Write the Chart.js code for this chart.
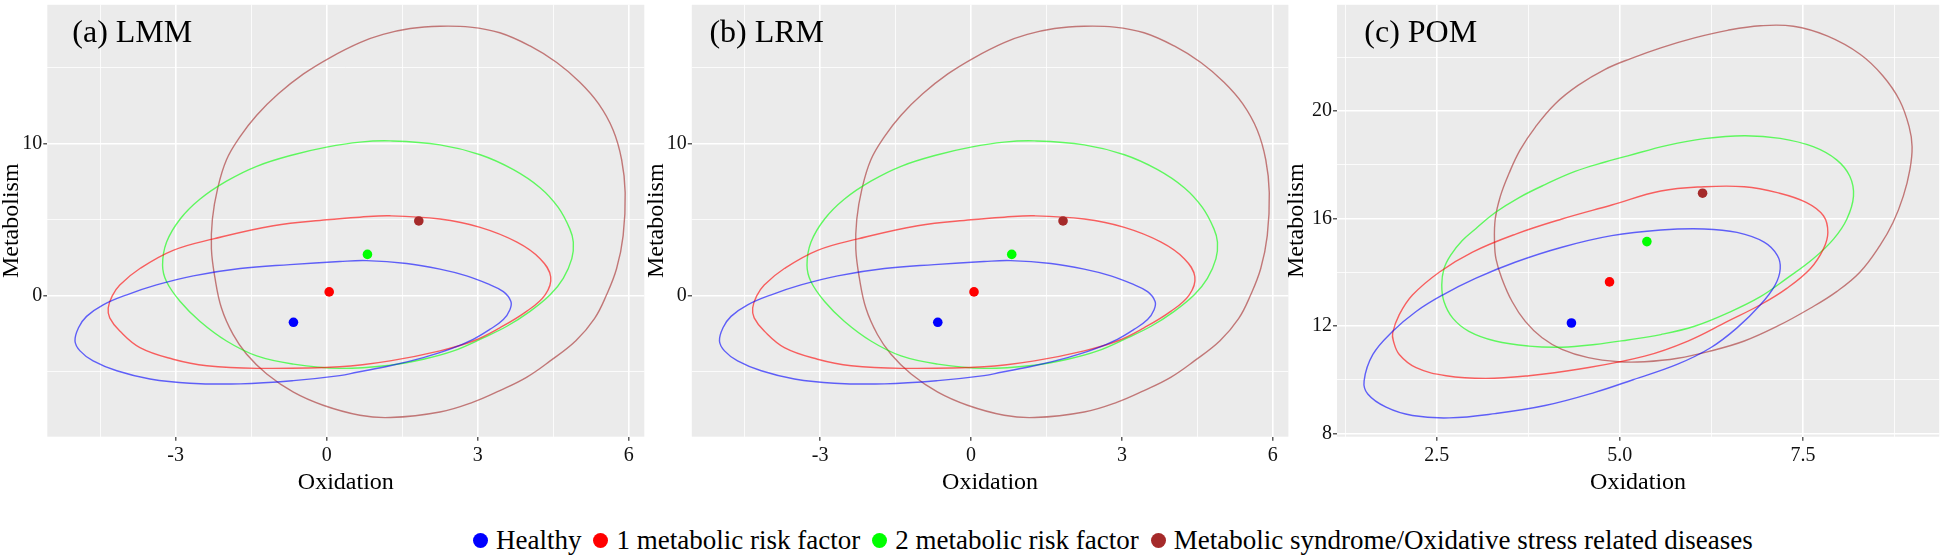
<!DOCTYPE html>
<html><head><meta charset="utf-8">
<script src="https://cdn.jsdelivr.net/npm/chart.js@4.4.1/dist/chart.umd.min.js"></script>
<style>
html,body{margin:0;padding:0;background:#fff;width:1944px;height:557px;overflow:hidden;position:relative;font-family:'Liberation Serif','Times New Roman',serif;}
canvas{position:absolute;top:0;}
#legend{position:absolute;left:473px;top:524px;height:32px;display:flex;align-items:center;font-size:27px;color:#000;white-space:nowrap;}
.dot{width:15px;height:15px;border-radius:50%;display:inline-block;margin-right:8px;flex:none;}
.item{display:flex;align-items:center;margin-right:12px;}
</style></head>
<body>
<canvas id="pa" width="650" height="510" style="left:0px;width:650px;height:510px"></canvas>
<canvas id="pb" width="650" height="510" style="left:645px;width:650px;height:510px"></canvas>
<canvas id="pc" width="659" height="510" style="left:1285px;width:659px;height:510px"></canvas>
<div id="legend"></div>
<script>
// ---------------- DATA ----------------
const groups = ['Healthy', '1 metabolic risk factor', '2 metabolic risk factor', 'Metabolic syndrome/Oxidative stress related diseases'];

// (a) LMM : group means [Oxidation, Metabolism]
const lmmMeans = [[-0.66, -1.74], [0.05, 0.26], [0.81, 2.73], [1.83, 4.93]];
// (a) LMM : ellipse outlines
const lmmHealthyEllipse = [[-5.00,-2.97],[-4.93,-2.10],[-4.77,-1.35],[-4.44,-0.59],[-3.97,0.07],[-3.38,0.72],[-2.65,1.32],[-1.72,1.80],[-0.73,2.06],[0.26,2.26],[0.79,2.32],[1.59,2.13],[2.25,1.76],[2.78,1.32],[3.18,0.82],[3.51,0.28],[3.66,-0.37],[3.64,-0.91],[3.51,-1.56],[3.24,-2.21],[2.91,-2.86],[2.45,-3.51],[1.92,-4.06],[1.26,-4.60],[0.60,-5.03],[0.26,-5.25],[-0.66,-5.58],[-1.72,-5.79],[-2.72,-5.75],[-3.51,-5.47],[-4.17,-4.93],[-4.64,-4.28],[-4.90,-3.62]];
const lmmRisk1Ellipse = [[-4.34,-0.80],[-4.26,0.00],[-4.11,0.72],[-3.71,1.80],[-3.05,3.00],[-2.25,3.75],[-1.06,4.62],[0.00,5.01],[0.66,5.18],[1.26,5.27],[2.25,5.06],[3.05,4.51],[3.78,3.54],[4.24,2.45],[4.45,1.26],[4.34,0.07],[3.97,-1.02],[3.44,-2.10],[2.91,-2.97],[2.25,-3.62],[1.26,-4.28],[0.26,-4.67],[-1.39,-4.77],[-2.38,-4.60],[-3.05,-4.17],[-3.71,-3.41],[-4.11,-2.32],[-4.31,-1.45]];
const lmmRisk2Ellipse = [[-3.26,2.02],[-3.18,3.54],[-2.91,5.06],[-2.52,6.36],[-1.99,7.55],[-1.39,8.53],[-0.66,9.29],[0.00,9.79],[0.66,10.12],[1.26,10.20],[2.25,9.94],[3.05,9.29],[3.71,8.31],[4.24,7.12],[4.60,5.82],[4.83,4.41],[4.90,3.54],[4.87,2.45],[4.70,1.15],[4.44,0.07],[4.04,-1.02],[3.58,-2.00],[3.11,-2.76],[2.52,-3.62],[1.92,-4.17],[1.26,-4.56],[0.26,-4.77],[-0.66,-4.49],[-1.39,-3.95],[-1.99,-2.97],[-2.52,-1.67],[-2.91,-0.37],[-3.18,0.93]];
const lmmSyndromeEllipse = [[-2.29,3.10],[-2.27,5.06],[-2.17,7.01],[-1.99,8.96],[-1.72,10.48],[-1.39,11.89],[-0.96,13.30],[-0.46,14.61],[0.07,15.69],[0.66,16.67],[1.12,17.21],[1.66,17.60],[2.25,17.75],[2.85,17.69],[3.44,17.32],[4.04,16.45],[4.57,15.36],[5.03,14.06],[5.40,12.65],[5.69,10.92],[5.86,8.96],[5.93,6.79],[5.89,3.97],[5.76,1.80],[5.56,0.07],[5.32,-1.50],[4.95,-2.95],[4.44,-4.28],[3.97,-5.36],[3.44,-6.23],[2.91,-6.99],[2.25,-7.64],[1.26,-8.01],[0.66,-7.86],[-0.07,-7.20],[-0.66,-6.34],[-1.19,-5.14],[-1.59,-3.84],[-1.86,-2.54],[-2.09,-0.80],[-2.22,1.20]];

// (b) LRM : reads identical to (a) in the picture
const lrmMeans = [[-0.66, -1.74], [0.06, 0.26], [0.81, 2.73], [1.83, 4.93]];
const lrmHealthyEllipse = lmmHealthyEllipse;
const lrmRisk1Ellipse = lmmRisk1Ellipse;
const lrmRisk2Ellipse = lmmRisk2Ellipse;
const lrmSyndromeEllipse = lmmSyndromeEllipse;

// (c) POM
const pomMeans = [[4.34, 12.11], [4.86, 13.64], [5.37, 15.14], [6.13, 16.94]];
const pomHealthyEllipse = [[1.51,9.96],[1.63,10.94],[1.90,11.80],[2.22,12.54],[2.58,13.15],[3.03,13.77],[3.58,14.38],[4.21,14.93],[4.89,15.36],[5.56,15.57],[6.15,15.61],[6.60,15.48],[6.97,15.12],[7.15,14.63],[7.19,14.13],[7.12,13.52],[6.92,12.79],[6.60,11.93],[6.24,11.19],[5.79,10.58],[5.18,10.00],[4.66,9.53],[3.98,9.04],[3.30,8.74],[2.67,8.58],[2.17,8.67],[1.81,8.98],[1.56,9.47]];
const pomRisk1Ellipse = [[1.90,11.74],[1.99,12.42],[2.17,13.15],[2.54,14.01],[2.99,14.75],[3.58,15.42],[4.21,15.98],[4.89,16.50],[5.56,17.02],[6.15,17.18],[6.70,17.18],[7.15,16.96],[7.55,16.59],[7.78,16.10],[7.84,15.48],[7.78,14.87],[7.60,14.13],[7.28,13.40],[6.92,12.79],[6.47,12.17],[5.93,11.44],[5.34,10.88],[4.43,10.39],[3.76,10.15],[3.17,10.05],[2.63,10.15],[2.22,10.45],[1.99,10.94],[1.91,11.44]];
const pomRisk2Ellipse = [[2.57,13.52],[2.60,14.13],[2.69,14.63],[2.85,15.18],[3.03,15.61],[3.30,16.22],[3.62,16.77],[3.98,17.26],[4.39,17.75],[4.80,18.10],[5.11,18.33],[5.65,18.72],[6.15,18.97],[6.70,19.08],[7.19,18.98],[7.64,18.67],[7.96,18.18],[8.14,17.57],[8.19,16.83],[8.10,15.98],[7.92,15.24],[7.64,14.50],[7.28,13.77],[6.92,13.09],[6.47,12.48],[6.02,11.99],[5.56,11.68],[5.11,11.48],[4.66,11.31],[4.21,11.21],[3.76,11.25],[3.30,11.44],[2.94,11.80],[2.72,12.29],[2.60,12.91]];
const pomSyndromeEllipse = [[3.29,15.12],[3.30,15.98],[3.37,16.83],[3.49,17.69],[3.64,18.55],[3.85,19.41],[4.12,20.27],[4.43,20.95],[4.80,21.55],[5.15,21.95],[5.56,22.35],[6.02,22.72],[6.47,23.00],[6.92,23.17],[7.37,23.15],[7.83,22.79],[8.28,22.11],[8.59,21.31],[8.82,20.39],[8.95,19.41],[8.99,18.67],[8.96,17.82],[8.87,16.83],[8.73,15.85],[8.55,14.99],[8.28,14.01],[7.96,13.28],[7.60,12.66],[7.15,11.99],[6.70,11.44],[6.24,11.07],[5.79,10.80],[5.34,10.67],[4.98,10.67],[4.57,10.82],[4.21,11.13],[3.94,11.56],[3.71,12.17],[3.53,12.91],[3.39,13.77],[3.31,14.50]];

// tick values and labels
const lmmXMajor = [-3, 0, 3, 6], lmmXLabels = ['-3', '0', '3', '6'], lmmXMinor = [-4.5, -1.5, 1.5, 4.5];
const lmmYMajor = [0, 10], lmmYLabels = ['0', '10'], lmmYMinor = [-5, 5, 15];
const pomXMajor = [2.5, 5, 7.5], pomXLabels = ['2.5', '5.0', '7.5'], pomXMinor = [1.25, 3.75, 6.25, 8.75];
const pomYMajor = [8, 12, 16, 20], pomYLabels = ['8', '12', '16', '20'], pomYMinor = [10, 14, 18, 22];

// ---------------- STYLE ----------------
const FONT = "'Liberation Serif','Times New Roman',serif";
const pointColors = ['#0000FF', '#FF0000', '#00FF00', '#A52A2A'];
const lineColors = ['rgba(0,0,255,0.6)', 'rgba(255,0,0,0.6)', 'rgba(0,255,0,0.6)', 'rgba(165,42,42,0.6)'];

const bgPlugin = {
  id: 'panelBg',
  beforeDraw(chart) {
    const a = chart.chartArea, ctx = chart.ctx;
    ctx.save(); ctx.fillStyle = '#EBEBEB';
    ctx.fillRect(a.left, a.top, a.right - a.left, a.bottom - a.top);
    ctx.restore();
  },
  afterDraw(chart) {
    const o = chart.options.plugins.panelBg;
    if (!o || !o.text) return;
    const ctx = chart.ctx;
    ctx.save();
    ctx.font = '32px ' + FONT; ctx.fillStyle = '#000'; ctx.textBaseline = 'alphabetic'; ctx.textAlign = 'left';
    ctx.fillText(o.text, chart.chartArea.left + o.dx, 41.7);
    ctx.restore();
  }
};
const loopPlugin = {
  id: 'closedLoop',
  afterDatasetsUpdate(chart) {
    chart.data.datasets.forEach((ds, i) => {
      if (!ds.closedLoop) return;
      const line = chart.getDatasetMeta(i).dataset;
      if (!line) return;
      line._loop = true; line._fullLoop = true;
      line._segments = undefined; line._path = undefined; line._pointsUpdated = false;
    });
  }
};

function axis(major, labels, minor, min, max, dir, size) {
  const all = major.concat(minor).sort((a, b) => a - b);
  const isMajor = v => major.some(m => Math.abs(m - v) < 1e-9);
  return {
    type: 'linear', min: min, max: max,
    afterBuildTicks: s => { s.ticks = all.map(v => ({ value: v })); },
    afterFit: s => {
      if (dir === 'x') s.height = size; else s.width = size;
      s.paddingTop = 0; s.paddingBottom = 0; s.paddingLeft = 0; s.paddingRight = 0;
    },
    ticks: {
      autoSkip: false, maxRotation: 0, minRotation: 0, padding: dir === 'x' ? 3 : 1,
      color: '#111', font: { size: 20, family: FONT },
      callback: v => { const k = major.findIndex(m => Math.abs(m - v) < 1e-9); return k < 0 ? '' : labels[k]; }
    },
    grid: {
      color: '#FFFFFF',
      lineWidth: c => (c.tick && isMajor(c.tick.value)) ? 1.6 : 0.8,
      tickColor: c => (c.tick && isMajor(c.tick.value)) ? '#333333' : 'rgba(0,0,0,0)',
      tickWidth: 1.2, tickLength: 4, drawTicks: true, drawOnChartArea: true
    },
    border: { display: false },
    title: {
      display: true, text: dir === 'x' ? 'Oxidation' : 'Metabolism', color: '#000',
      font: { size: 24, family: FONT, lineHeight: 1 },
      padding: dir === 'x' ? { top: 0, bottom: 15 } : { top: 0, bottom: 0 }
    }
  };
}

function buildPanel(id, means, ellipses, xs, ys, title, titleDx, padRight) {
  const datasets = [];
  means.forEach((m, i) => datasets.push({
    label: groups[i], data: [{ x: m[0], y: m[1] }], showLine: false,
    pointRadius: 4.8, pointBackgroundColor: pointColors[i], pointBorderWidth: 0, pointHoverRadius: 4.8
  }));
  ellipses.forEach((e, i) => datasets.push({
    label: groups[i] + ' ellipse', data: e.map(p => ({ x: p[0], y: p[1] })), showLine: true, closedLoop: true,
    borderColor: lineColors[i], borderWidth: 1.4, pointRadius: 0, pointHoverRadius: 0, tension: 0.4, fill: false
  }));
  return new Chart(document.getElementById(id), {
    type: 'scatter',
    data: { datasets },
    options: {
      responsive: false, animation: false, devicePixelRatio: 1,
      events: [],
      layout: { padding: { left: 0, right: padRight, top: 0, bottom: 0 } },
      plugins: { legend: { display: false }, tooltip: { enabled: false }, panelBg: { text: title, dx: titleDx } },
      scales: { x: xs, y: ys }
    },
    plugins: [bgPlugin, loopPlugin]
  });
}

buildPanel('pa', lmmMeans, [lmmHealthyEllipse, lmmRisk1Ellipse, lmmRisk2Ellipse, lmmSyndromeEllipse],
  axis(lmmXMajor, lmmXLabels, lmmXMinor, -5.55, 6.31, 'x', 73.3),
  axis(lmmYMajor, lmmYLabels, lmmYMinor, -9.27, 19.16, 'y', 47.3),
  '(a) LMM', 25, 5.7);
buildPanel('pb', lrmMeans, [lrmHealthyEllipse, lrmRisk1Ellipse, lrmRisk2Ellipse, lrmSyndromeEllipse],
  axis(lmmXMajor, lmmXLabels, lmmXMinor, -5.55, 6.31, 'x', 73.3),
  axis(lmmYMajor, lmmYLabels, lmmYMinor, -9.27, 19.16, 'y', 46.8),
  '(b) LRM', 17.6, 6.6);
buildPanel('pc', pomMeans, [pomHealthyEllipse, pomRisk1Ellipse, pomRisk2Ellipse, pomSyndromeEllipse],
  axis(pomXMajor, pomXLabels, pomXMinor, 1.14, 9.36, 'x', 73.3),
  axis(pomYMajor, pomYLabels, pomYMinor, 7.88, 23.95, 'y', 52),
  '(c) POM', 27.3, 0.7);

// legend (HTML text)
const lg = document.getElementById('legend');
groups.forEach((g, i) => {
  const it = document.createElement('span'); it.className = 'item';
  const d = document.createElement('span'); d.className = 'dot'; d.style.background = pointColors[i];
  const t = document.createElement('span'); t.textContent = g;
  it.appendChild(d); it.appendChild(t); lg.appendChild(it);
});
</script>
</body></html>
